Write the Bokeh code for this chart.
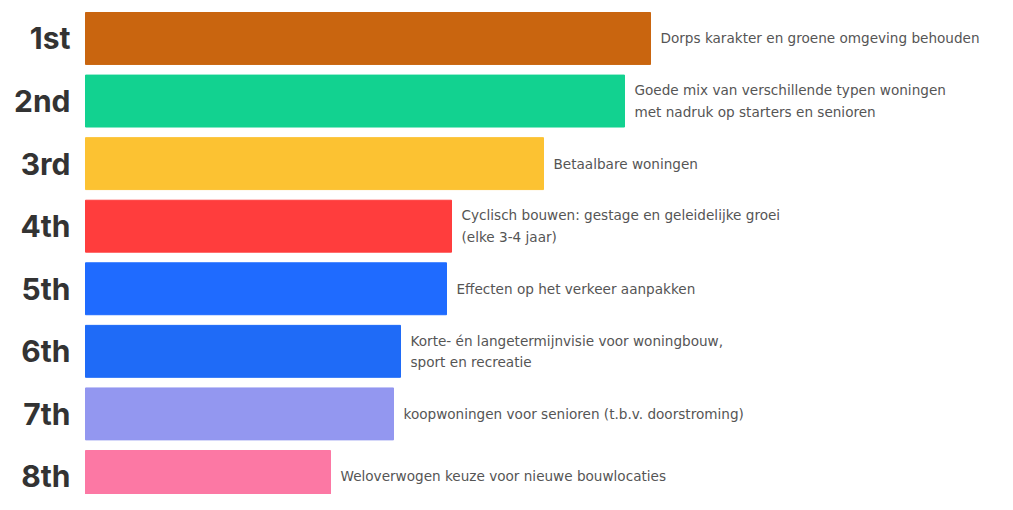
from bokeh.plotting import figure
from bokeh.models import ColumnDataSource, Range1d
from bokeh.core.properties import value
from bokeh.embed import file_html
from bokeh.resources import INLINE

ranks = ["1st", "2nd", "3rd", "4th", "5th", "6th", "7th", "8th"]
scores = [565, 539, 458, 366, 361, 315, 308, 245]
labels = [
    "Dorps karakter en groene omgeving behouden",
    "Goede mix van verschillende typen woningen\nmet nadruk op starters en senioren",
    "Betaalbare woningen",
    "Cyclisch bouwen: gestage en geleidelijke groei\n(elke 3-4 jaar)",
    "Effecten op het verkeer aanpakken",
    "Korte- én langetermijnvisie voor woningbouw,\n sport en recreatie",
    "koopwoningen voor senioren (t.b.v. doorstroming)",
    "Weloverwogen keuze voor nieuwe bouwlocaties",
]
colors = ["#C9650F", "#12D290", "#FCC232", "#FF3D3D", "#1F6BFF", "#1F6BF7", "#9397F0", "#FC78A4"]

pos = list(range(1, len(ranks) + 1))
src = ColumnDataSource(dict(y=pos, score=scores, rank=ranks, label=labels, color=colors))

p = figure(width=997, height=494, output_backend="svg", toolbar_location=None,
           x_range=Range1d(-85, 912), y_range=Range1d(8.288, 0.393),
           min_border=0, min_border_left=0, min_border_right=0,
           min_border_top=0, min_border_bottom=0)
p.axis.visible = False
p.grid.visible = False
p.outline_line_color = None
p.background_fill_color = "white"
p.border_fill_color = "white"

p.hbar(y="y", left=0, right="score", height=0.83, color="color", source=src)

p.text(x=-15, y="y", text="rank", source=src, text_align="right", text_baseline="middle",
       text_font=value("Inter"), text_font_style="bold", text_font_size="30px",
       text_color="#333333")

p.text(x="score", y="y", text="label", source=src, x_offset=10, text_align="left",
       text_baseline="middle", text_font=value("DejaVu Sans"), text_font_size="13.6px",
       text_color="#555555", text_line_height=1.35)

open("out.html", "w").write(file_html(p, INLINE))
